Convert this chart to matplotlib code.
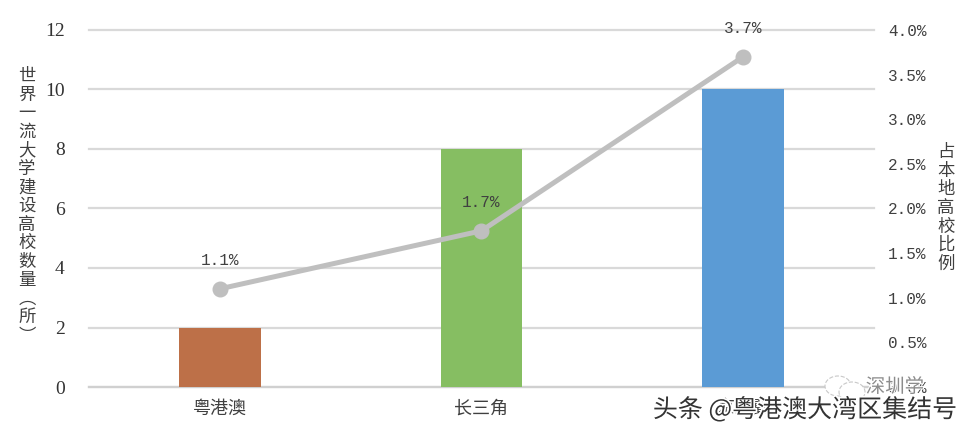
import matplotlib
matplotlib.use('Agg')
import matplotlib.pyplot as plt
import matplotlib.patheffects as pe
from matplotlib.patches import Ellipse

plt.rcParams['font.family'] = ['Noto Sans CJK SC', 'DejaVu Sans']

categories = ['粤港澳', '长三角', '京津冀']
counts = [2, 8, 10]
shares = [1.1, 1.75, 3.7]
share_labels = ['1.1%', '1.7%', '3.7%']
bar_colors = ['#BD7048', '#86BE62', '#5B9BD5']
left_ticks = [0, 2, 4, 6, 8, 10, 12]
right_ticks = [0, 0.5, 1.0, 1.5, 2.0, 2.5, 3.0, 3.5, 4.0]
left_title = '世界一流大学建设高校数量︵所︶'
right_title = '占本地高校比例'

W, H = 970, 436
fig = plt.figure(figsize=(W / 100, H / 100), dpi=100, facecolor='white')
ax = fig.add_axes([89 / W, 1 - 387 / H, 785 / W, 357 / H])
ax.set_xlim(-0.5, 2.5)
ax.set_ylim(0, 12)
ax.set_axisbelow(True)
ax.yaxis.grid(True, color='#D9D9D9', lw=1.6, clip_on=False)
ax.xaxis.grid(False)
for s in ax.spines.values():
    s.set_visible(False)
ax.axhline(0, color='#D0D0D0', lw=1.6, zorder=1, clip_on=False)
ax.bar(range(3), counts, width=0.313, color=bar_colors, zorder=2)
ax.set_xticks(range(3))
ax.set_xticklabels(categories, fontsize=13, color='#404040')
ax.set_yticks(left_ticks)
ax.set_yticklabels([str(v) for v in left_ticks], fontsize=14, color='#333333',
                   family='Liberation Serif')
ax.tick_params(axis='both', length=0)
ax.tick_params(axis='y', pad=17.5)
ax.tick_params(axis='x', pad=9)

ax2 = ax.twinx()
ax2.set_ylim(0, 4.0)
for s in ax2.spines.values():
    s.set_visible(False)
ax2.set_yticks(right_ticks)
ax2.set_yticklabels([f'{v:.1f}%' for v in right_ticks], fontsize=11.5, color='#404040',
                    family='Liberation Mono')
ax2.tick_params(axis='y', length=0, pad=10)
ax2.plot(range(3), shares, color='#BFBFBF', lw=3.6, marker='o', ms=10.5, zorder=5,
         solid_capstyle='round')
for i, (v, t) in enumerate(zip(shares, share_labels)):
    ax2.annotate(t, (i, v), xytext=(0, 20.5), textcoords='offset points',
                 ha='center', va='center', fontsize=11.5, color='#404040',
                 family='Liberation Mono', zorder=6)

# stacked-character axis titles
fig.text(27 / W, 1 - 206 / H, '\n'.join(left_title), fontsize=12.5, color='#404040',
         ha='center', va='center', linespacing=1.04)
fig.text(946 / W, 1 - 208 / H, '\n'.join(right_title), fontsize=12.5, color='#404040',
         ha='center', va='center', linespacing=1.04)

# image watermarks
for cx, cy, ew, eh in [(838, 386, 26, 20), (852, 392, 26, 20)]:
    fig.add_artist(Ellipse((cx / W, 1 - cy / H), ew / W, eh / H, transform=fig.transFigure,
                           facecolor='white', edgecolor='#C8C8C8', lw=0.8, ls='--', zorder=8))
fig.text(895 / W, 1 - 387 / H, '深圳学', fontsize=14, color='#8C8C8C',
         ha='center', va='center', zorder=9,
         path_effects=[pe.withStroke(linewidth=1.5, foreground='white')])
fig.text(805 / W, 1 - 410 / H, '头条 @粤港澳大湾区集结号', fontsize=18, color='#333333',
         ha='center', va='center', zorder=10,
         path_effects=[pe.withStroke(linewidth=2.5, foreground='white')])

fig.savefig('out.png', dpi=100)
